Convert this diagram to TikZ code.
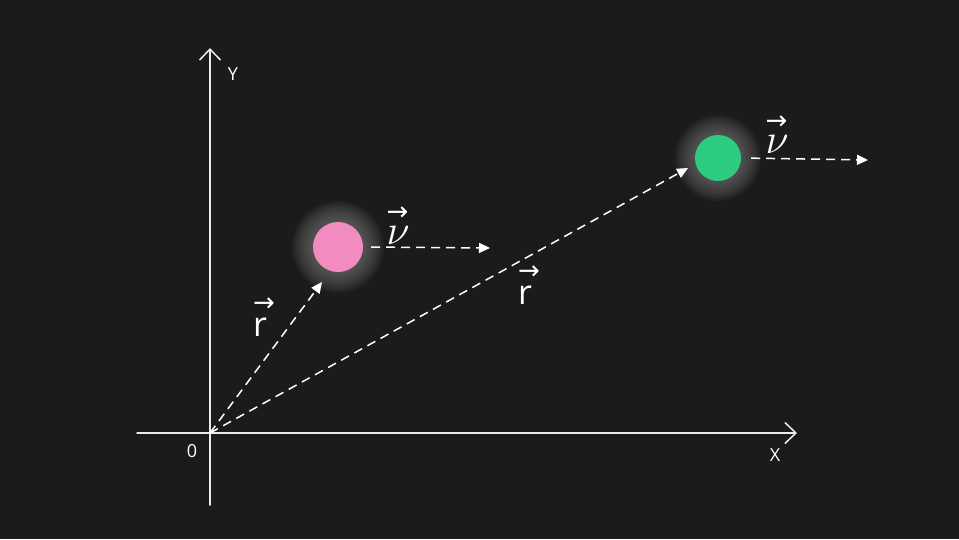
\documentclass[tikz,border=0pt]{standalone}
\usepackage{fix-cm}
\usepackage{fontspec}
\setmainfont{Open Sans}
\newfontfamily\arrowfont{DejaVu Sans}
\usetikzlibrary{arrows.meta}
\definecolor{bgdark}{RGB}{27,27,27}
\definecolor{halo}{RGB}{125,125,125}
\definecolor{pinkball}{RGB}{242,140,192}
\definecolor{greenball}{RGB}{46,204,128}
\newcommand{\arrowsym}[1]{\shortstack[l]{{\arrowfont\fontsize{26}{26}\selectfont →}\\[3pt]#1}}
\tikzset{
  axis/.style={white!92!black, line width=1.5pt, line cap=round,
    -{Straight Barb[length=11pt, width=21pt, line width=1.5pt]}},
  vecline/.style={white, line width=1.5pt, dash pattern=on 9pt off 6pt,
    -{Triangle[length=11pt, width=10pt]}},
  ball/.style={circle, inner sep=0pt, minimum size=#1},
  lbl/.style={white, inner sep=0pt},
  vlbl/.style={white, inner sep=0pt, font=\fontsize{#1}{#1}\selectfont}
}
\begin{document}
\begin{tikzpicture}[x=1pt, y=-1pt, font=\fontsize{18}{21}\selectfont]
  % hintergrund
  \fill[bgdark] (0,0) rectangle (959,539);
  % achsen
  \coordinate (o) at (210,433);
  \coordinate (ytop) at (210,48);
  \coordinate (ybot) at (210,505);
  \coordinate (xleft) at (137,433);
  \coordinate (xright) at (797,433);
  \draw[axis] (ybot) -- (ytop);
  \draw[axis] (xleft) -- (xright);
  \node[lbl] (ylab) at (233,74) {Y};
  \node[lbl] (xlab) at (775,455) {X};
  \node[lbl] (olab) at (192,451) {0};
  % teilchen mit schein
  \coordinate (pinkc) at (338,247);
  \coordinate (greenc) at (718,158);
  \foreach \rr in {46,44,...,26} {
    \fill[halo, opacity=0.08] (pinkc) circle (\rr pt);
    \fill[halo, opacity=0.08] (greenc) circle (\rr pt - 3pt);
  }
  \node[ball=50pt, fill=pinkball] (pink) at (pinkc) {};
  \node[ball=46pt, fill=greenball] (green) at (greenc) {};
  % ortsvektoren
  \coordinate (rtipA) at (322,282);
  \coordinate (rtipB) at (688,168);
  \draw[vecline] (o) -- (rtipA);
  \draw[vecline] (o) -- (rtipB);
  \node[vlbl=34] (rA) at (264,317) {\arrowsym{r}};
  \node[vlbl=34] (rB) at (529,285) {\arrowsym{r}};
  % geschwindigkeiten
  \coordinate (vtipA) at (490,248);
  \coordinate (vtipB) at (868,160);
  \draw[vecline, shorten <=8pt] (pink.east) -- (vtipA);
  \draw[vecline, shorten <=10pt] (green.east) -- (vtipB);
  \node[vlbl=42] (vA) at (398,226) {\arrowsym{$\nu$}};
  \node[vlbl=42] (vB) at (777,135) {\arrowsym{$\nu$}};
\end{tikzpicture}
\end{document}
